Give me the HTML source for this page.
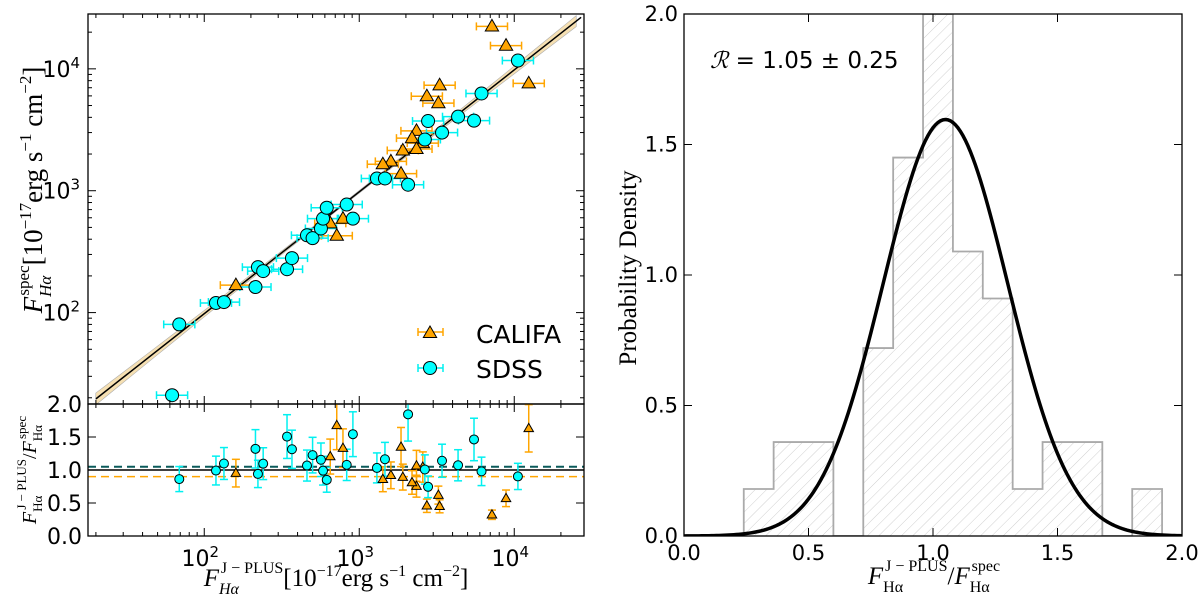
<!DOCTYPE html>
<html><head><meta charset="utf-8"><style>
html,body{margin:0;padding:0;background:#fff;}
svg{display:block;font-family:"DejaVu Sans","Liberation Sans",sans-serif;}
.ser{font-family:"Liberation Serif","DejaVu Serif",serif;}
</style></head><body>
<svg id="chart" width="1200" height="601" viewBox="0 0 1200 601" xmlns="http://www.w3.org/2000/svg">
<defs>
<pattern id="hatch" patternUnits="userSpaceOnUse" width="8" height="8" patternTransform="rotate(45)">
<line x1="0" y1="0" x2="0" y2="8" stroke="#d0d0d0" stroke-width="1"/>
</pattern>
<clipPath id="clipMain"><rect x="88" y="14" width="496" height="390"/></clipPath>
<clipPath id="clipRes"><rect x="88" y="404" width="496" height="132"/></clipPath>
<clipPath id="clipHist"><rect x="684" y="14" width="498" height="522"/></clipPath>
</defs>
<g id="gMain"></g>
<g id="gRes"></g>
<g id="gHist"></g>
</svg>
<script>
// ---- data ----
const sdssX = [69,62,119,134,214,222,240,342,368,460,500,566,584,617,830,910,1300,1465,2065,2650,2780,3420,4340,5500,6150,10560];
const sdssY = [80,21,120,122,162,236,219,227,280,431,408,490,590,725,770,590,1260,1260,1120,2630,3730,3000,4050,3760,6280,11700];
const califaX = [160,7180,8850,12400,3300,2730,3240,2340,2190,2570,2340,1910,1600,1420,1860,650,785,716];
const califaY = [168,22300,15500,7600,7330,5960,5230,3100,2700,2460,2200,2140,1740,1650,1380,540,590,427];
const histEdges = [0.24,0.36,0.48,0.60,0.72,0.84,0.96,1.08,1.20,1.32,1.44,1.56,1.68,1.80,1.92];
const histHeights = [0.18,0.36,0.36,0,0.72,1.45,2.0,1.09,0.91,0.18,0.36,0.36,0,0.18];
const gaussMean = [1.05];
const gaussSigma = [0.25];
const meanRatioSDSS = [1.05];
const meanRatioCALIFA = [0.90];
const resTicks = [0.0,0.5,1.0,1.5,2.0];
const histXTicks = [0.0,0.5,1.0,1.5,2.0];
const histYTicks = [0.0,0.5,1.0,1.5,2.0];

const NS="http://www.w3.org/2000/svg";
function mk(parent,tag,attrs,text){const e=document.createElementNS(NS,tag);for(const k in attrs)e.setAttribute(k,attrs[k]);if(text!==undefined)e.textContent=text;parent.appendChild(e);return e;}

const L=88,R=584,T=14,B=404,RB=536;
const lmin=1.25,lmax=4.45;
const sx=v=>L+(Math.log10(v)-lmin)/(lmax-lmin)*(R-L);
const sy=v=>B-(Math.log10(v)-lmin)/(lmax-lmin)*(B-T);
const ry=v=>RB-v/2*(RB-B);
const HL=684,HR=1182,HT=14,HB=536;
const hx=v=>HL+v/2*(HR-HL);
const hy=v=>HB-v/2*(HB-HT);

const gM=document.getElementById('gMain');
const gR=document.getElementById('gRes');
const gH=document.getElementById('gHist');

// ---------- main panel ----------
const mc=mk(gM,'g',{'clip-path':'url(#clipMain)'});
let up=[],lo=[];
for(let i=0;i<=40;i++){const lx=1.3+i*(4.4-1.3)/40;const x=Math.pow(10,lx);const w=0.01+0.035*Math.pow(Math.abs(lx-2.9)/1.5,1.5);
 up.push(sx(x)+','+sy(x*0.98*Math.pow(10,w)));lo.unshift(sx(x)+','+sy(x*0.98/Math.pow(10,w)));}
const band=mk(mc,'polygon',{points:up.concat(lo).join(' '),fill:'#f5d9a0',stroke:'#999','stroke-width':0.6,opacity:0.8});


const fit=mk(mc,'line',{x1:sx(20),y1:sy(20*0.98),x2:sx(27000),y2:sy(27000*0.98),stroke:'#000','stroke-width':1.5});



function errX(g,x,y,col){const a=sx(x/1.26),b=sx(x*1.26),yy=sy(y);
 mk(g,'line',{x1:a,y1:yy,x2:b,y2:yy,stroke:col,'stroke-width':1.5});
 mk(g,'line',{x1:a,y1:yy-4,x2:a,y2:yy+4,stroke:col,'stroke-width':1.5});
 mk(g,'line',{x1:b,y1:yy-4,x2:b,y2:yy+4,stroke:col,'stroke-width':1.5});}
function tri(g,cx,cy,s){return mk(g,'polygon',{points:`${cx},${cy-s} ${cx-s*0.95},${cy+s*0.65} ${cx+s*0.95},${cy+s*0.65}`,fill:'#FFA500',stroke:'#000','stroke-width':1});}

califaX.forEach((x,i)=>{errX(mc,x,califaY[i],'#FFA500');});
sdssX.forEach((x,i)=>{errX(mc,x,sdssY[i],'#00F0F0');});
califaX.forEach((x,i)=>{const t=tri(mc,sx(x),sy(califaY[i]),7);
 
 });
sdssX.forEach((x,i)=>{const c=mk(mc,'circle',{cx:sx(x),cy:sy(sdssY[i]),r:6.5,fill:'#00FFFF',stroke:'#000','stroke-width':1});
 
 });

function logTicksX(top,bot){
 for(let d=1;d<=4;d++)for(let m=1;m<10;m++){const v=m*Math.pow(10,d);const lv=Math.log10(v);if(lv<lmin||lv>lmax)continue;
  const x=sx(v),len=m===1?8:4;
  mk(gM,'line',{x1:x,y1:bot,x2:x,y2:bot-len,stroke:'#000','stroke-width':1});
  mk(gM,'line',{x1:x,y1:top,x2:x,y2:top+len,stroke:'#000','stroke-width':1});}
}
logTicksX(T,B);
logTicksX(B,RB);
for(let d=1;d<=4;d++)for(let m=1;m<10;m++){const v=m*Math.pow(10,d);const lv=Math.log10(v);if(lv<lmin||lv>lmax)continue;
 const y=sy(v),len=m===1?8:4;
 mk(gM,'line',{x1:L,y1:y,x2:L+len,y2:y,stroke:'#000','stroke-width':1});
 mk(gM,'line',{x1:R,y1:y,x2:R-len,y2:y,stroke:'#000','stroke-width':1});}
[2,3,4].forEach(d=>{const t=mk(gM,'text',{x:L-8,y:sy(Math.pow(10,d))+8,'text-anchor':'end','font-size':22});
 
 
 t.innerHTML='10<tspan dy="-9" font-size="15">'+d+'</tspan>';
 const u=mk(gM,'text',{x:sx(Math.pow(10,d))-4,y:RB+30,'text-anchor':'middle','font-size':22});
 
 
 u.innerHTML='10<tspan dy="-9" font-size="15">'+d+'</tspan>';});
mk(gM,'rect',{x:L,y:T,width:R-L,height:B-T,fill:'none',stroke:'#000','stroke-width':1.3,});

// legend
const lg=mk(gM,'g',{});
mk(lg,'line',{x1:418,y1:332,x2:443,y2:332,stroke:'#FFA500','stroke-width':1.5});
mk(lg,'line',{x1:418,y1:328,x2:418,y2:336,stroke:'#FFA500','stroke-width':1.5});
mk(lg,'line',{x1:443,y1:328,x2:443,y2:336,stroke:'#FFA500','stroke-width':1.5});
tri(lg,430,333,7);
mk(lg,'text',{x:476,y:343,'font-size':25,},'CALIFA');
mk(lg,'line',{x1:418,y1:368,x2:443,y2:368,stroke:'#00F0F0','stroke-width':1.5});
mk(lg,'line',{x1:418,y1:364,x2:418,y2:372,stroke:'#00F0F0','stroke-width':1.5});
mk(lg,'line',{x1:443,y1:364,x2:443,y2:372,stroke:'#00F0F0','stroke-width':1.5});
mk(lg,'circle',{cx:430,cy:368,r:6.5,fill:'#00FFFF',stroke:'#000'});
mk(lg,'text',{x:476,y:378,'font-size':25,},'SDSS');

const yl=mk(gM,'text',{class:'ser',transform:'translate(42,190) rotate(-90)','text-anchor':'middle','font-size':27,});
yl.innerHTML='<tspan font-style="italic">F</tspan><tspan dy="9" font-size="17" font-style="italic">Hα</tspan><tspan dy="-22" dx="-20" font-size="17">spec</tspan><tspan dy="13">[10</tspan><tspan dy="-11" font-size="17">−17</tspan><tspan dy="11">erg s</tspan><tspan dy="-11" font-size="17">−1</tspan><tspan dy="11"> cm</tspan><tspan dy="-11" font-size="17">−2</tspan><tspan dy="11">]</tspan>';
const xl=mk(gM,'text',{class:'ser',x:336,y:586,'text-anchor':'middle','font-size':25,});
xl.innerHTML='<tspan font-style="italic">F</tspan><tspan dy="8" font-size="16" font-style="italic">Hα</tspan><tspan dy="-21" dx="-18" font-size="16">J − PLUS</tspan><tspan dy="13">[10</tspan><tspan dy="-10" font-size="16">−17</tspan><tspan dy="10">erg s</tspan><tspan dy="-10" font-size="16">−1</tspan><tspan dy="10"> cm</tspan><tspan dy="-10" font-size="16">−2</tspan><tspan dy="10">]</tspan>';

// ---------- residual panel ----------
const rc=mk(gR,'g',{'clip-path':'url(#clipRes)'});
mk(rc,'line',{x1:L,y1:ry(1),x2:R,y2:ry(1),stroke:'#000','stroke-width':1.5,});
mk(rc,'line',{x1:L,y1:ry(meanRatioSDSS[0]),x2:R,y2:ry(meanRatioSDSS[0]),stroke:'#0a5a5a','stroke-width':2,'stroke-dasharray':'8,5',});
mk(rc,'line',{x1:L,y1:ry(meanRatioCALIFA[0]),x2:R,y2:ry(meanRatioCALIFA[0]),stroke:'#FFA500','stroke-width':1.5,'stroke-dasharray':'8,5',});
function errY(g,x,r,col){const a=ry(r*0.78),b=ry(r*1.22),xx=sx(x);
 mk(g,'line',{x1:xx,y1:a,x2:xx,y2:b,stroke:col,'stroke-width':1.5});
 mk(g,'line',{x1:xx-4,y1:a,x2:xx+4,y2:a,stroke:col,'stroke-width':1.5});
 mk(g,'line',{x1:xx-4,y1:b,x2:xx+4,y2:b,stroke:col,'stroke-width':1.5});}
califaX.forEach((x,i)=>errY(rc,x,x/califaY[i],'#FFA500'));
sdssX.forEach((x,i)=>errY(rc,x,x/sdssY[i],'#00F0F0'));
califaX.forEach((x,i)=>{const t=tri(rc,sx(x),ry(x/califaY[i]),5);
 
 });
sdssX.forEach((x,i)=>{const c=mk(rc,'circle',{cx:sx(x),cy:ry(x/sdssY[i]),r:4.5,fill:'#00FFFF',stroke:'#000','stroke-width':1});
 
 });
resTicks.forEach(v=>{const y=ry(v);
 mk(gR,'line',{x1:L,y1:y,x2:L+8,y2:y,stroke:'#000'});
 mk(gR,'line',{x1:R,y1:y,x2:R-8,y2:y,stroke:'#000'});
 const t=mk(gR,'text',{x:L-6,y:y+8,'text-anchor':'end','font-size':22},v.toFixed(1));
 
 });
mk(gR,'rect',{x:L,y:B,width:R-L,height:RB-B,fill:'none',stroke:'#000','stroke-width':1.3,});
const rl=mk(gR,'text',{class:'ser',transform:'translate(36,470) rotate(-90)','text-anchor':'middle','font-size':20,});
rl.innerHTML='<tspan font-style="italic">F</tspan><tspan dy="6" font-size="13">Hα</tspan><tspan dy="-16" dx="-14" font-size="13">J − PLUS</tspan><tspan dy="10">/</tspan><tspan font-style="italic">F</tspan><tspan dy="6" font-size="13">Hα</tspan><tspan dy="-16" dx="-14" font-size="13">spec</tspan>';

// ---------- histogram ----------
const hc=mk(gH,'g',{'clip-path':'url(#clipHist)'});
histHeights.forEach((h,i)=>{if(h<=0)return;
 const r=mk(hc,'rect',{x:hx(histEdges[i]),y:hy(h),width:hx(histEdges[i+1])-hx(histEdges[i]),height:hy(0)-hy(h),fill:'url(#hatch)'});
 
 });
let sp='M'+hx(histEdges[0])+','+hy(0);
histHeights.forEach((h,i)=>{sp+=' L'+hx(histEdges[i])+','+hy(h)+' L'+hx(histEdges[i+1])+','+hy(h);});
sp+=' L'+hx(histEdges[histEdges.length-1])+','+hy(0);
mk(hc,'path',{d:sp,fill:'none',stroke:'#aaa','stroke-width':1.8,});
let gp='';for(let i=0;i<=200;i++){const x=i*2/200;const y=Math.exp(-0.5*Math.pow((x-gaussMean[0])/gaussSigma[0],2))/(gaussSigma[0]*Math.sqrt(2*Math.PI));gp+=(i?' L':'M')+hx(x)+','+hy(y);}
mk(hc,'path',{d:gp,fill:'none',stroke:'#000','stroke-width':3.5,});
histXTicks.forEach(v=>{const x=hx(v);
 mk(gH,'line',{x1:x,y1:HB,x2:x,y2:HB-8,stroke:'#000'});mk(gH,'line',{x1:x,y1:HT,x2:x,y2:HT+8,stroke:'#000'});
 const t=mk(gH,'text',{x:x,y:HB+24,'text-anchor':'middle','font-size':21},v.toFixed(1));
 
 });
histYTicks.forEach(v=>{const y=hy(v);
 mk(gH,'line',{x1:HL,y1:y,x2:HL+8,y2:y,stroke:'#000'});mk(gH,'line',{x1:HR,y1:y,x2:HR-8,y2:y,stroke:'#000'});
 const t=mk(gH,'text',{x:HL-6,y:y+7,'text-anchor':'end','font-size':21},v.toFixed(1));
 
 });
mk(gH,'rect',{x:HL,y:HT,width:HR-HL,height:HB-HT,fill:'none',stroke:'#000','stroke-width':1.3,});
mk(gH,'text',{class:'ser',transform:'translate(636,268) rotate(-90)','text-anchor':'middle','font-size':25,},'Probability Density');
const ht=mk(gH,'text',{class:'ser',x:934,y:584,'text-anchor':'middle','font-size':25,});
ht.innerHTML='<tspan font-style="italic">F</tspan><tspan dy="8" font-size="16">Hα</tspan><tspan dy="-21" dx="-18" font-size="16">J − PLUS</tspan><tspan dy="13">/</tspan><tspan font-style="italic">F</tspan><tspan dy="8" font-size="16">Hα</tspan><tspan dy="-21" dx="-18" font-size="16">spec</tspan>';
const an=mk(gH,'text',{x:710,y:68,'font-size':23,});
an.innerHTML='<tspan class="ser" font-style="italic">ℛ</tspan> = 1.05 ± 0.25';
</script>
</body></html>
